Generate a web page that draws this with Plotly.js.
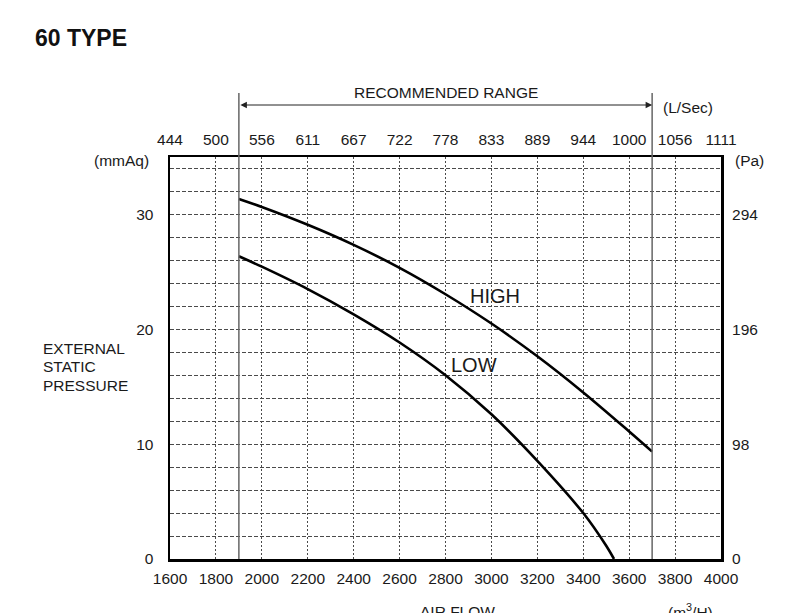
<!DOCTYPE html>
<html>
<head>
<meta charset="utf-8">
<script src="https://cdn.plot.ly/plotly-3.0.1.min.js"></script>
<style>html,body{margin:0;padding:0;background:#fff;}#chart{width:794px;height:613px;}</style>
</head>
<body>
<div id="chart"></div>
<script>
// ---- data ----
const airflowTicks = [1600,1800,2000,2200,2400,2600,2800,3000,3200,3400,3600,3800,4000];
const lsecLabels = ['444','500','556','611','667','722','778','833','889','944','1000','1056','1111'];
const mmaqTicks = [0,10,20,30];
const paLabels = ['0','98','196','294'];

const airflowHigh = [1900,2000,2200,2400,2600,2800,3000,3200,3400,3600,3700];
const pressureHigh = [31.35,30.65,29.1,27.35,25.35,23.05,20.5,17.65,14.5,11.1,9.35];

const airflowLow = [1900,2000,2200,2400,2600,2800,3000,3200,3400,3500,3534];
const pressureLow = [26.36,25.45,23.5,21.3,18.85,16.0,12.6,8.55,4.0,1.15,0];

const rangeMin = 1900;
const rangeMax = 3700;

// ---- drawing ----
const FONT = 'Liberation Sans, Arial, Helvetica, sans-serif';
const TXT = '#1a1a1a';
const FS = 15.5;

const traces = [
  {x: airflowHigh, y: pressureHigh, mode:'lines', line:{color:'#000', width:2.6, shape:'spline', smoothing:1}, hoverinfo:'skip', showlegend:false},
  {x: airflowLow, y: pressureLow, mode:'lines', line:{color:'#000', width:2.6, shape:'spline', smoothing:1}, hoverinfo:'skip', showlegend:false},
  {x: [airflowTicks[0], airflowTicks[airflowTicks.length-1]], y:[null,null], xaxis:'x2', yaxis:'y2', mode:'lines', hoverinfo:'skip', showlegend:false}
];

function yPaper(px){ return (559 - px) / 402; }

const layout = {
  width: 794, height: 613,
  margin: {l:170, r:73, t:157, b:54},
  paper_bgcolor:'#fff', plot_bgcolor:'#fff',
  font: {family: FONT, size: FS, color: TXT},
  showlegend: false,
  title: {text:'<b>60 TYPE</b>', x: 35/794, xanchor:'left', xref:'container', y: 1-38/613, yanchor:'middle', yref:'container', font:{family:FONT, size:23, color:'#111'}},
  xaxis: {
    range:[1600,4000], tickvals: airflowTicks, ticktext: airflowTicks.map(String),
    showgrid:true, gridcolor:'#4a4a4a', gridwidth:1, griddash:'2px,2px',
    showline:true, linecolor:'#000', linewidth:2.5, mirror:true,
    ticks:'outside', ticklen:4, tickcolor:'rgba(0,0,0,0)',
    zeroline:false, tickfont:{size:FS, color:TXT}, fixedrange:true
  },
  xaxis2: {
    range:[1600,4000], overlaying:'x', side:'top', anchor:'y',
    tickvals: airflowTicks, ticktext: lsecLabels,
    showgrid:false, showline:false, zeroline:false,
    ticks:'outside', ticklen:5, tickcolor:'rgba(0,0,0,0)',
    tickfont:{size:FS, color:TXT}, fixedrange:true
  },
  yaxis: {
    range:[0,35], tickvals: mmaqTicks, ticktext: mmaqTicks.map(String),
    showgrid:true, gridcolor:'#4a4a4a', gridwidth:1, griddash:'4px,2px',
    minor:{tickmode:'linear', tick0:0, dtick:2, showgrid:true, gridcolor:'#4a4a4a', gridwidth:1, griddash:'4px,2px', ticks:''},
    showline:true, linecolor:'#000', linewidth:2.5, mirror:true,
    ticks:'outside', ticklen:11, tickcolor:'rgba(0,0,0,0)',
    zeroline:false, tickfont:{size:FS, color:TXT}, fixedrange:true
  },
  yaxis2: {
    range:[0,35], overlaying:'y', side:'right', anchor:'x',
    tickvals: mmaqTicks, ticktext: paLabels,
    showgrid:false, showline:false, zeroline:false,
    ticks:'outside', ticklen:7, tickcolor:'rgba(0,0,0,0)',
    tickfont:{size:FS, color:TXT}, fixedrange:true
  },
  shapes: [
    {type:'line', xref:'x', yref:'paper', x0:rangeMin, x1:rangeMin, y0:0, y1:yPaper(93), line:{color:'#666', width:1.5}, layer:'above'},
    {type:'line', xref:'x', yref:'paper', x0:rangeMax, x1:rangeMax, y0:0, y1:yPaper(93), line:{color:'#666', width:1.5}, layer:'above'}
  ],
  annotations: [
    {x: rangeMax, y: yPaper(105), xref:'x', yref:'paper', ax: rangeMin, ay: 0, axref:'x', ayref:'pixel', text:'', showarrow:true, arrowhead:2, startarrowhead:2, arrowside:'end+start', arrowsize:1.3, startarrowsize:1.3, arrowwidth:1, arrowcolor:'#222', standoff:0, startstandoff:0},
    {x: (rangeMin+rangeMax)/2, y: yPaper(92), xref:'x', yref:'paper', text:'RECOMMENDED RANGE', showarrow:false, font:{size:FS, color:TXT}, xanchor:'center', yanchor:'middle'},
    {x: (688-170)/551, y: yPaper(107), xref:'paper', yref:'paper', text:'(L/Sec)', showarrow:false, font:{size:FS, color:TXT}, xanchor:'center', yanchor:'middle'},
    {x: (121-170)/551, y: yPaper(160), xref:'paper', yref:'paper', text:'(mmAq)', showarrow:false, font:{size:FS, color:TXT}, xanchor:'center', yanchor:'middle'},
    {x: (749-170)/551, y: yPaper(160), xref:'paper', yref:'paper', text:'(Pa)', showarrow:false, font:{size:FS, color:TXT}, xanchor:'center', yanchor:'middle'},
    {x: (41-170)/551, y: yPaper(348), xref:'paper', yref:'paper', text:'EXTERNAL', showarrow:false, align:'left', font:{size:FS, color:TXT}, xanchor:'left', yanchor:'middle'},
    {x: (41-170)/551, y: yPaper(366.5), xref:'paper', yref:'paper', text:'STATIC', showarrow:false, align:'left', font:{size:FS, color:TXT}, xanchor:'left', yanchor:'middle'},
    {x: (41-170)/551, y: yPaper(385), xref:'paper', yref:'paper', text:'PRESSURE', showarrow:false, align:'left', font:{size:FS, color:TXT}, xanchor:'left', yanchor:'middle'},
    {x: (457-170)/551, y: yPaper(611), xref:'paper', yref:'paper', text:'AIR FLOW', showarrow:false, font:{size:FS, color:TXT}, xanchor:'center', yanchor:'middle'},
    {x: (690-170)/551, y: yPaper(611), xref:'paper', yref:'paper', text:'(m<sup>3</sup>/H)', showarrow:false, font:{size:FS, color:TXT}, xanchor:'center', yanchor:'middle'},
    {x: 3015, y: 22.9, xref:'x', yref:'y', text:'HIGH', showarrow:false, font:{size:20, color:TXT}, xanchor:'center', yanchor:'middle'},
    {x: 2924, y: 16.9, xref:'x', yref:'y', text:'LOW', showarrow:false, font:{size:20, color:TXT}, xanchor:'center', yanchor:'middle'}
  ]
};

Plotly.newPlot('chart', traces, layout, {staticPlot:true, displayModeBar:false});
</script>
</body>
</html>
